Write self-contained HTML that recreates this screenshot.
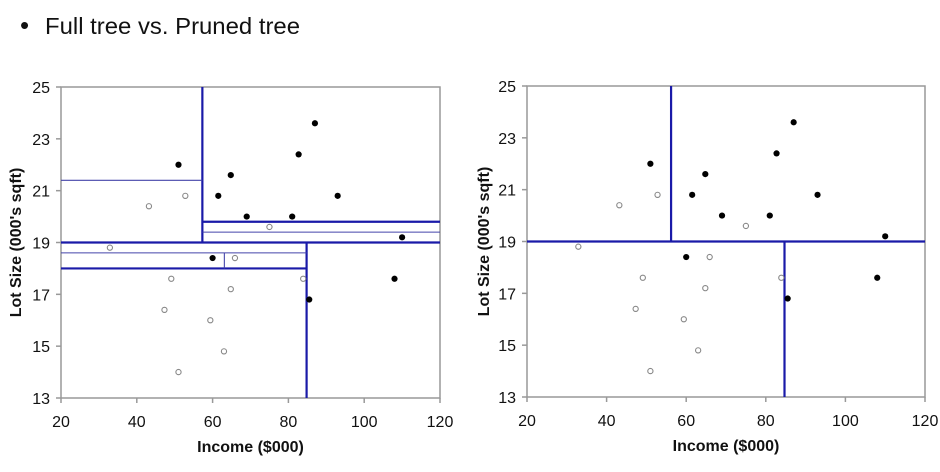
<!DOCTYPE html>
<html><head><meta charset="utf-8"><style>
html,body{margin:0;padding:0;background:#fff;}
svg{display:block;font-family:"Liberation Sans",Arial,sans-serif;}
</style></head><body>
<svg id="svg" width="940" height="472" viewBox="0 0 940 472">
<text x="20" y="34" font-size="26" fill="#111">•</text>
<text x="45" y="34" font-size="23" fill="#111" textLength="255" lengthAdjust="spacingAndGlyphs">Full tree vs. Pruned tree</text>
<g id="left"></g>
<g id="right"></g>
</svg>
<script>
const ownerIncome = [51, 61.5, 64.8, 69, 81, 82.7, 87, 93, 110, 60, 85.5, 108];
const ownerLot = [22.0, 20.8, 21.6, 20.0, 20.0, 22.4, 23.6, 20.8, 19.2, 18.4, 16.8, 17.6];
const nonIncome = [43.2, 52.8, 32.9, 75, 65.9, 49.1, 64.8, 47.3, 59.4, 83.9, 63, 51];
const nonLot = [20.4, 20.8, 18.8, 19.6, 18.4, 17.6, 17.2, 16.4, 16.0, 17.6, 14.8, 14.0];
const xTicks = [20, 40, 60, 80, 100, 120];
const yTicks = [13, 15, 17, 19, 21, 23, 25];
// splits: [x1,y1,x2,y2,thick]
const fullSplits = [
 [57.3,19,57.3,25,1],[20,21.4,57.3,21.4,0],[57.3,19.8,120,19.8,1],[57.3,19.4,120,19.4,0],
 [20,19,120,19,1],[84.8,13,84.8,19,1],[20,18.6,84.8,18.6,0],[20,18,84.8,18,1],[63.1,18,63.1,18.6,0]
];
const prunedSplits = [[56.2,19,56.2,25,1],[20,19,120,19,1],[84.7,13,84.7,19,1]];

const NS='http://www.w3.org/2000/svg';
function mk(p,t,a){const e=document.createElementNS(NS,t);for(const k in a)e.setAttribute(k,a[k]);p.appendChild(e);return e;}
function draw(g,L,R,T,B,ylabX,splits,prefix){
 const sx=v=>L+(v-20)/100*(R-L), sy=v=>B-(v-13)/12*(B-T);
 let e=mk(g,'rect',{x:L,y:T,width:R-L,height:B-T,fill:'none',stroke:'#999','stroke-width':1.5});
 
 
 xTicks.forEach(v=>{
  mk(g,'line',{x1:sx(v),x2:sx(v),y1:B,y2:B+5,stroke:'#999','stroke-width':1.5});
  const t=mk(g,'text',{x:sx(v),y:B+29,'font-size':16,'text-anchor':'middle',fill:'#111'});t.textContent=v;
  
  
 });
 yTicks.forEach(v=>{
  mk(g,'line',{x1:L-5,x2:L,y1:sy(v),y2:sy(v),stroke:'#999','stroke-width':1.5});
  const t=mk(g,'text',{x:L-11,y:sy(v)+6,'font-size':16,'text-anchor':'end',fill:'#111'});t.textContent=v;
  
  
 });
 splits.forEach(s=>{
  const l=mk(g,'line',{x1:sx(s[0]),y1:sy(s[1]),x2:sx(s[2]),y2:sy(s[3]),stroke:s[4]?'#1a1aa8':'#4444aa','stroke-width':s[4]?2.2:1.1});
  
  
 });
 nonIncome.forEach((v,i)=>{
  const c=mk(g,'circle',{cx:sx(v),cy:sy(nonLot[i]),r:2.6,fill:'#fff',stroke:'#888','stroke-width':1.1});
  
  
 });
 ownerIncome.forEach((v,i)=>{
  const c=mk(g,'circle',{cx:sx(v),cy:sy(ownerLot[i]),r:3.1,fill:'#000'});
  
  
 });
 const xt=mk(g,'text',{x:(L+R)/2,y:B+54,'font-size':16,'font-weight':'bold','text-anchor':'middle',fill:'#111'});
 xt.textContent='Income ($000)';
 
 
 const cy=(T+B)/2;
 const yt=mk(g,'text',{x:ylabX,y:cy,'font-size':16,'font-weight':'bold','text-anchor':'middle',fill:'#111',transform:`rotate(-90 ${ylabX} ${cy})`});
 yt.textContent="Lot Size (000's sqft)";
 
 
}
draw(document.getElementById('left'),61,440,87,398,21,fullSplits,'full-');
draw(document.getElementById('right'),527,925,86,397,489,prunedSplits,'pruned-');
</script>
</body></html>
